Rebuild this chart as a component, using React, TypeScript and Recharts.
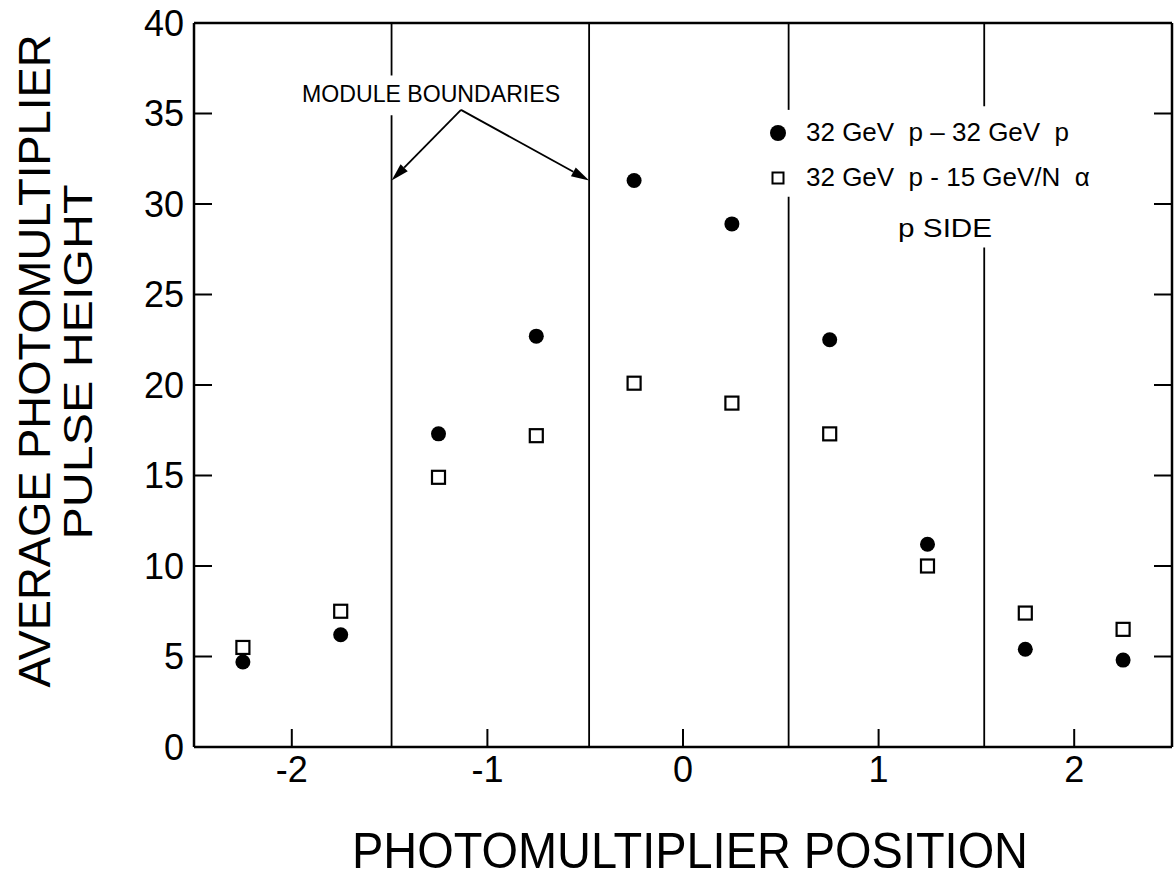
import React from "react";
import {
  ScatterChart,
  Scatter,
  XAxis,
  YAxis,
  ReferenceLine,
  ReferenceDot,
  Legend,
  Label,
} from "recharts";

// photomultiplier positions and mean pulse heights for each beam combination
const positions = [-2.25, -1.75, -1.25, -0.75, -0.25, 0.25, 0.75, 1.25, 1.75, 2.25];
const ppHeights = [4.7, 6.2, 17.3, 22.7, 31.3, 28.9, 22.5, 11.2, 5.4, 4.8];
const pAlphaHeights = [5.5, 7.5, 14.9, 17.2, 20.1, 19.0, 17.3, 10.0, 7.4, 6.5];
const seriesNames = ["32 GeV  p – 32 GeV  p", "32 GeV  p - 15 GeV/N  α"];

const xTicks = [-2, -1, 0, 1, 2];
const yTicks = [0, 5, 10, 15, 20, 25, 30, 35, 40];

const moduleBoundaries = [-1.49, -0.48, 0.54, 1.54];
// stretches of each boundary line left open behind the annotations
const boundaryGaps: ([number, number] | null)[] = [
  [34.9, 37.1],
  null,
  [30.4, 35.2],
  [27.6, 35.4],
];

const FONT = "'Liberation Sans', Arial, sans-serif";
const INK = "#000";

const ppData = positions.map((x, i) => ({ x, y: ppHeights[i] }));
const alphaData = positions.map((x, i) => ({ x, y: pAlphaHeights[i] }));

const boundarySegments = moduleBoundaries.flatMap((x, i) => {
  const gap = boundaryGaps[i];
  const spans: [number, number][] = gap ? [[0, gap[0]], [gap[1], 40]] : [[0, 40]];
  return spans.map(([a, b]) => [{ x, y: a }, { x, y: b }]);
});

const arrowFrom = { x: -1.135, y: 35.2 };
const arrowTargets = [
  { x: -1.49, y: 31.3 },
  { x: -0.48, y: 31.3 },
];

const Dot = (p: any) => <circle cx={p.cx} cy={p.cy} r={7.5} fill={INK} />;
const Box = (p: any) => (
  <rect x={p.cx - 6.5} y={p.cy - 6.5} width={13} height={13} fill="#fff" stroke={INK} strokeWidth={2.2} />
);

const arrowShape = (p: any) => {
  const { x1, y1, x2, y2 } = p;
  const ang = Math.atan2(y2 - y1, x2 - x1);
  const len = 18;
  const half = 5;
  const bx = x2 - len * Math.cos(ang);
  const by = y2 - len * Math.sin(ang);
  const pts = `${x2},${y2} ${bx - half * Math.sin(ang)},${by + half * Math.cos(ang)} ${bx + half * Math.sin(ang)},${by - half * Math.cos(ang)}`;
  return (
    <g>
      <line x1={x1} y1={y1} x2={bx} y2={by} stroke={INK} strokeWidth={1.8} />
      <polygon points={pts} fill={INK} />
    </g>
  );
};

const textAt = (text: string, size: number, length: number) => (p: any) => (
  <text
    x={p.cx}
    y={p.cy}
    textAnchor="middle"
    dominantBaseline="central"
    fontFamily={FONT}
    fontSize={size}
    fill={INK}
    textLength={length}
    lengthAdjust="spacingAndGlyphs"
  >
    {text}
  </text>
);

const renderLegend = () => (
  <div style={{ fontFamily: FONT, fontSize: 26, color: INK, whiteSpace: "pre" }}>
    {seriesNames.map((name, i) => (
      <div key={name} style={{ display: "flex", alignItems: "center", height: 45 }}>
        <svg width={37} height={20}>
          {i === 0 ? (
            <circle cx={9} cy={10} r={8} fill={INK} />
          ) : (
            <rect x={3.5} y={4.5} width={11} height={11} fill="#fff" stroke={INK} strokeWidth={2} />
          )}
        </svg>
        <span>{name}</span>
      </div>
    ))}
  </div>
);

const xTitle = () => (
  <text
    x={690}
    y={868}
    textAnchor="middle"
    fontFamily={FONT}
    fontSize={50}
    fill={INK}
    textLength={676}
    lengthAdjust="spacingAndGlyphs"
  >
    PHOTOMULTIPLIER POSITION
  </text>
);

const yTitle = () => (
  <g fontFamily={FONT} fill={INK}>
    <text
      transform="translate(50,361) rotate(-90)"
      textAnchor="middle"
      fontSize={44}
      textLength={653}
      lengthAdjust="spacingAndGlyphs"
    >
      AVERAGE PHOTOMULTIPLIER
    </text>
    <text
      transform="translate(92,362) rotate(-90)"
      textAnchor="middle"
      fontSize={40}
      textLength={355}
      lengthAdjust="spacingAndGlyphs"
    >
      PULSE HEIGHT
    </text>
  </g>
);

const axisLine = { stroke: INK, strokeWidth: 2.5 };
const tickLine = { stroke: INK, strokeWidth: 2 };

export default function App() {
  return (
    <div style={{ position: "absolute", left: 0, top: 0, background: "#fff" }}>
      <ScatterChart width={1176} height={878} margin={{ top: 0, right: 0, bottom: 0, left: 0 }}>
        <XAxis
          xAxisId="b"
          type="number"
          dataKey="x"
          domain={[-2.5, 2.5]}
          ticks={xTicks}
          interval={0}
          height={131}
          tickSize={-18}
          tickMargin={27}
          axisLine={axisLine}
          tickLine={tickLine}
          tick={{ fill: INK, fontSize: 36, fontFamily: FONT }}
          allowDataOverflow
        >
          <Label content={xTitle} />
        </XAxis>
        <XAxis
          xAxisId="t"
          orientation="top"
          type="number"
          domain={[-2.5, 2.5]}
          ticks={xTicks}
          interval={0}
          height={23}
          tickSize={-18}
          tickFormatter={() => ""}
          axisLine={axisLine}
          tickLine={tickLine}
          allowDataOverflow
        />
        <YAxis
          yAxisId="l"
          type="number"
          dataKey="y"
          domain={[0, 40]}
          ticks={yTicks}
          interval={0}
          width={194}
          tickSize={-18}
          tickMargin={28}
          axisLine={axisLine}
          tickLine={tickLine}
          tick={{ fill: INK, fontSize: 36, fontFamily: FONT }}
          allowDataOverflow
        >
          <Label content={yTitle} />
        </YAxis>
        <YAxis
          yAxisId="r"
          orientation="right"
          type="number"
          domain={[0, 40]}
          ticks={yTicks}
          interval={0}
          width={4}
          tickSize={-18}
          tickFormatter={() => ""}
          axisLine={axisLine}
          tickLine={tickLine}
          allowDataOverflow
        />

        {boundarySegments.map((seg, i) => (
          <ReferenceLine
            key={`b${i}`}
            xAxisId="b"
            yAxisId="l"
            segment={seg}
            stroke={INK}
            strokeWidth={1.8}
          />
        ))}
        {arrowTargets.map((t, i) => (
          <ReferenceLine
            key={`a${i}`}
            xAxisId="b"
            yAxisId="l"
            segment={[arrowFrom, t]}
            shape={arrowShape}
          />
        ))}
        <ReferenceDot
          xAxisId="b"
          yAxisId="l"
          x={-1.288}
          y={36.08}
          r={0}
          shape={textAt("MODULE BOUNDARIES", 24, 258)}
        />
        <ReferenceDot
          xAxisId="b"
          yAxisId="l"
          x={1.34}
          y={28.67}
          r={0}
          shape={textAt("p  SIDE", 25, 94)}
        />

        <Scatter
          name={seriesNames[0]}
          xAxisId="b"
          yAxisId="l"
          data={ppData}
          shape={Dot}
          isAnimationActive={false}
        />
        <Scatter
          name={seriesNames[1]}
          xAxisId="b"
          yAxisId="l"
          data={alphaData}
          shape={Box}
          isAnimationActive={false}
        />
        <Legend
          layout="vertical"
          align="center"
          verticalAlign="middle"
          content={renderLegend}
          wrapperStyle={{ left: 769, top: 110, width: "auto", height: "auto" }}
        />
      </ScatterChart>
    </div>
  );
}
